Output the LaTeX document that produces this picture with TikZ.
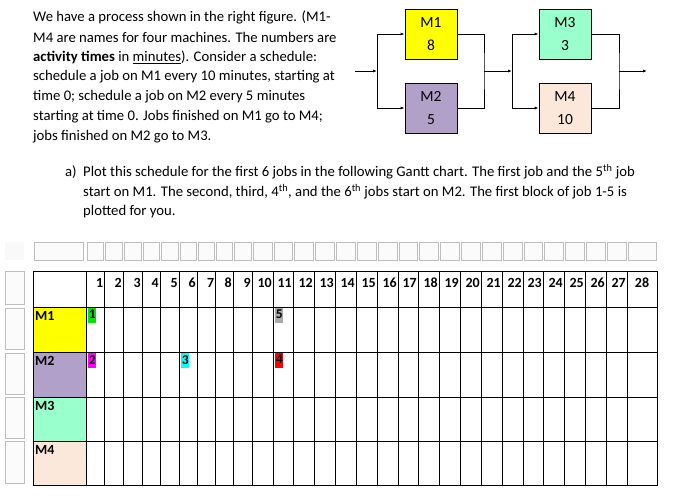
\documentclass[tikz,border=0pt]{standalone}
\usepackage{fontspec}
\setmainfont{Carlito}
\usetikzlibrary{arrows.meta}
\definecolor{cM1}{RGB}{255,255,0}
\definecolor{cM2}{RGB}{177,160,199}
\definecolor{cM3}{RGB}{153,255,204}
\definecolor{cM4}{RGB}{252,232,218}
\definecolor{gbox}{RGB}{190,190,190}
\definecolor{tg1}{RGB}{0,230,0}
\definecolor{tg2}{RGB}{255,0,255}
\definecolor{tg3}{RGB}{0,255,255}
\definecolor{tg4}{RGB}{255,0,0}
\definecolor{tg5}{RGB}{170,170,170}
\tikzset{
 mach/.style={draw,line width=0.8pt,minimum width=52pt,minimum height=50pt,align=center,font=\fontsize{15.5}{23}\selectfont},
 flow/.style={line width=0.8pt},
 arr/.style={flow,-{Latex[length=4pt,width=3pt]}},
 txt/.style={anchor=west,font=\fontsize{14.7}{15}\selectfont,inner sep=0},
 ghost/.style={draw=gbox,fill=gray!3,line width=0.6pt},
 tag/.style={inner xsep=0.6pt,inner ysep=2pt,text depth=2pt,font=\bfseries\fontsize{13.5}{14}\selectfont,anchor=north west},
 hdr/.style={font=\bfseries\fontsize{14}{14}\selectfont,anchor=east,inner sep=1pt},
 rowlab/.style={font=\bfseries\fontsize{14}{14}\selectfont,anchor=north west,inner sep=2pt}
}
\begin{document}
\begin{tikzpicture}[x=1pt,y=-1pt]
\useasboundingbox (0,0) rectangle (680,498);
% paragraph
\foreach \t [count=\i] in {We have a process shown in the right figure. (M1-,
 M4 are names for four machines. The numbers are,
 {\textbf{activity times} in \underline{minutes}). Consider a schedule:},
 schedule a job on M1 every 10 minutes{,} starting at,
 time 0; schedule a job on M2 every 5 minutes,
 starting at time 0. Jobs finished on M1 go to M4;,
 jobs finished on M2 go to M3.}
 \node[txt] (p\i) at (33,{17+20*(\i-1)}) {\t};
\node[txt] (qa) at (65,172) {a)};
\node[txt] (q1) at (83,172) {Plot this schedule for the first 6 jobs in the following Gantt chart. The first job and the 5\textsuperscript{th} job};
\node[txt] (q2) at (83,192) {start on M1. The second, third, 4\textsuperscript{th}, and the 6\textsuperscript{th} jobs start on M2. The first block of job 1-5 is};
\node[txt] (q3) at (83,212) {plotted for you.};
% process diagram
\node[mach,fill=cM1] (m1) at (431,34) {M1\\8};
\node[mach,fill=cM2] (m2) at (431,108) {M2\\5};
\node[mach,fill=cM3] (m3) at (565,34) {M3\\3};
\node[mach,fill=cM4] (m4) at (565,108) {M4\\10};
\coordinate (in) at (355,71);
\coordinate (s1) at (377,71);
\coordinate (j1) at (484,71);
\coordinate (s2) at (512,71);
\coordinate (j2) at (619,71);
\coordinate (out) at (647,71);
\draw[arr] (in) -- (s1);
\draw[flow] (s1 |- m1) -- (s1 |- m2);
\draw[arr] (s1 |- m1) -- (m1.west);
\draw[arr] (s1 |- m2) -- (m2.west);
\draw[flow] (m1.east) -| (j1) |- (m2.east);
\draw[arr] (j1) -- (s2);
\draw[flow] (s2 |- m3) -- (s2 |- m4);
\draw[arr] (s2 |- m3) -- (m3.west);
\draw[arr] (s2 |- m4) -- (m4.west);
\draw[flow] (m3.east) -| (j2) |- (m4.east);
\draw[arr] (j2) -- (out);
% ghost boxes
\def\cols{86,104.5,123,142,160,179,197,215.5,233,252,273,293,314,335,356,377,398,418,439,460,481,502,523,543,564,585,606,627,657}
\draw[ghost] (34,242) rectangle (83,260);
\foreach \a/\b in {86/104.5,104.5/123,123/142,142/160,160/179,179/197,197/215.5,215.5/233,233/252,252/273,273/293,293/314,314/335,335/356,356/377,377/398,398/418,418/439,439/460,460/481,481/502,502/523,523/543,543/564,564/585,585/606,606/627,627/657}
 \draw[ghost] (\a+1,242) rectangle (\b-1,260);
\fill[gray!5] (5,242) rectangle (24,260);
\foreach \a/\b in {271/304,308/349,353/394,397/438,441/483}
 \draw[ghost] (5,\a) rectangle (24,\b);
% gantt
\fill[cM1] (33,307) rectangle (86,352);
\fill[cM2] (33,352) rectangle (86,397);
\fill[cM3] (33,397) rectangle (86,441);
\fill[cM4] (33,441) rectangle (86,485);
\node[rowlab] (r1) at (33,309) {M1};
\node[rowlab] (r2) at (33,354) {M2};
\node[rowlab] (r3) at (33,399) {M3};
\node[rowlab] (r4) at (33,443) {M4};
\foreach \x in \cols \draw[line width=0.6pt] (\x,271) -- (\x,485);
\draw[line width=0.6pt] (33,271) rectangle (657,485);
\foreach \y in {307,352,397,441} \draw[line width=0.6pt] (33,\y) -- (657,\y);
\foreach \a/\b [count=\i] in {86/104.5,104.5/123,123/142,142/160,160/179,179/197,197/215.5,215.5/233,233/252,252/273,273/293,293/314,314/335,335/356,356/377,377/398,398/418,418/439,439/460,460/481,481/502,502/523,523/543,543/564,564/585,585/606,606/627}
 \node[hdr] (h\i) at (\b,283) {\i};
\node[hdr,anchor=center] (h28) at (642,283) {28};
\node[tag,fill=tg1] (j1t) at (88,308) {1};
\node[tag,fill=tg2] (j2t) at (88,353) {2};
\node[tag,fill=tg3] (j3t) at (181,353) {3};
\node[tag,fill=tg4] (j4t) at (275,353) {4};
\node[tag,fill=tg5] (j5t) at (275,308) {5};
\end{tikzpicture}
\end{document}
